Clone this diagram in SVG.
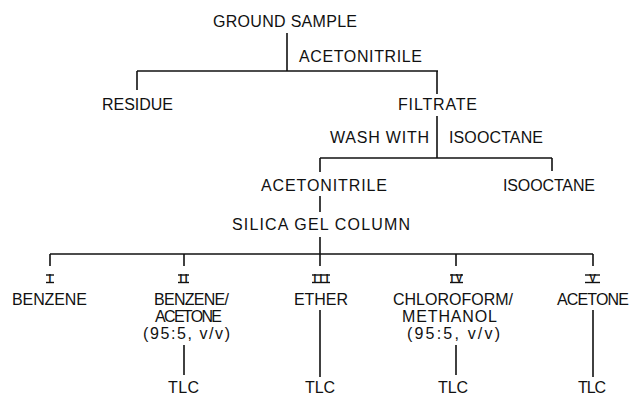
<svg xmlns="http://www.w3.org/2000/svg" width="633" height="396" viewBox="0 0 633 396">
<style>
text{font-family:"Liberation Sans",Arial,sans-serif;font-size:16px;fill:#111}
.num{font-size:10px;font-weight:bold;text-anchor:middle}
.c line{stroke:#111;stroke-width:1.6;fill:none}
.bars line{stroke:#111;stroke-width:1.4}
</style>
<rect width="633" height="396" fill="#fff"/>
<g class="c" id="connectors">
<line x1="287" y1="33" x2="287" y2="71"/>
<line x1="137" y1="71" x2="438" y2="71"/>
<line x1="137" y1="71" x2="137" y2="90"/>
<line x1="437" y1="71" x2="437" y2="94"/>
<line x1="437" y1="116" x2="437" y2="158"/>
<line x1="320" y1="158" x2="552" y2="158"/>
<line x1="320" y1="158" x2="320" y2="172"/>
<line x1="552" y1="158" x2="552" y2="171"/>
<line x1="320" y1="196" x2="320" y2="212"/>
<line x1="320" y1="237" x2="320" y2="254"/>
<line x1="50" y1="254" x2="593" y2="254"/>
<line x1="50" y1="254" x2="50" y2="266"/>
<line x1="184" y1="254" x2="184" y2="266"/>
<line x1="320" y1="254" x2="320" y2="266"/>
<line x1="456" y1="254" x2="456" y2="266"/>
<line x1="593" y1="254" x2="593" y2="266"/>
<line x1="184" y1="345" x2="184" y2="375"/>
<line x1="320" y1="310" x2="320" y2="377"/>
<line x1="456" y1="345" x2="456" y2="375"/>
<line x1="593" y1="310" x2="593" y2="377"/>
</g>
<g id="ground-sample"><text x="213" y="27" textLength="144" lengthAdjust="spacing">GROUND SAMPLE</text></g>
<g id="label-acetonitrile-1"><text x="299" y="62" textLength="123" lengthAdjust="spacing">ACETONITRILE</text></g>
<g id="residue"><text x="102" y="110" textLength="71" lengthAdjust="spacing">RESIDUE</text></g>
<g id="filtrate"><text x="398" y="110" textLength="79" lengthAdjust="spacing">FILTRATE</text></g>
<g id="label-wash"><text x="330" y="143" textLength="99" lengthAdjust="spacing">WASH WITH</text><text x="449" y="143" textLength="94" lengthAdjust="spacing">ISOOCTANE</text></g>
<g id="acetonitrile-2"><text x="261" y="191" textLength="126" lengthAdjust="spacing">ACETONITRILE</text></g>
<g id="isooctane"><text x="503" y="191" textLength="92" lengthAdjust="spacing">ISOOCTANE</text></g>
<g id="silica"><text x="232" y="230" textLength="178" lengthAdjust="spacing">SILICA GEL COLUMN</text></g>
<g id="fraction-1">
<text class="num" x="50" y="282">I</text>
<text x="12" y="305" textLength="75" lengthAdjust="spacing">BENZENE</text>
</g>
<g id="fraction-2">
<text class="num" x="183.5" y="282" textLength="8" lengthAdjust="spacing">II</text>
<text x="154" y="305" textLength="75" lengthAdjust="spacing">BENZENE/</text>
<text x="155" y="322" textLength="67" lengthAdjust="spacing">ACETONE</text>
<text x="143" y="339" textLength="87" lengthAdjust="spacing">(95:5, v/v)</text>
</g>
<g id="fraction-3">
<text class="num" x="321" y="282" textLength="15" lengthAdjust="spacing">III</text>
<text x="294" y="305" textLength="54" lengthAdjust="spacing">ETHER</text>
</g>
<g id="fraction-4">
<text class="num" x="456.5" y="282" textLength="12" lengthAdjust="spacing">IV</text>
<text x="393" y="305" textLength="120" lengthAdjust="spacing">CHLOROFORM/</text>
<text x="402" y="322" textLength="95" lengthAdjust="spacing">METHANOL</text>
<text x="407" y="339" textLength="93" lengthAdjust="spacing">(95:5, v/v)</text>
</g>
<g id="fraction-5">
<text class="num" x="592.5" y="282" textLength="11" lengthAdjust="spacing">V</text>
<text x="557" y="305" textLength="72" lengthAdjust="spacing">ACETONE</text>
</g>
<g id="tlc-2"><text x="168" y="393" textLength="31" lengthAdjust="spacing">TLC</text></g>
<g id="tlc-3"><text x="305" y="393" textLength="30" lengthAdjust="spacing">TLC</text></g>
<g id="tlc-4"><text x="438" y="393" textLength="30" lengthAdjust="spacing">TLC</text></g>
<g id="tlc-5"><text x="578" y="393" textLength="28" lengthAdjust="spacing">TLC</text></g>
<g class="bars" id="numeral-bars">
<line x1="46" y1="275" x2="54" y2="275"/><line x1="46" y1="282.5" x2="54" y2="282.5"/>
<line x1="178" y1="275" x2="189" y2="275"/><line x1="178" y1="282.5" x2="189" y2="282.5"/>
<line x1="312" y1="275" x2="330" y2="275"/><line x1="312" y1="282.5" x2="330" y2="282.5"/>
<line x1="450" y1="275" x2="463" y2="275"/><line x1="450" y1="282.5" x2="463" y2="282.5"/>
<line x1="585" y1="275" x2="600" y2="275"/><line x1="585" y1="282.5" x2="600" y2="282.5"/>
</g>
</svg>
